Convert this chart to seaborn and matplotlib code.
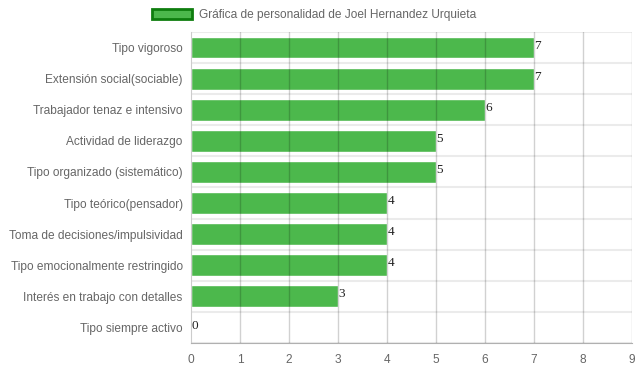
import numpy as np
import pandas as pd
import matplotlib.pyplot as plt
import seaborn as sns
from matplotlib.patches import Patch

# Data
categories = ["Tipo vigoroso", "Extensión social(sociable)", "Trabajador tenaz e intensivo",
              "Actividad de liderazgo", "Tipo organizado (sistemático)", "Tipo teórico(pensador)",
              "Toma de decisiones/impulsividad", "Tipo emocionalmente restringido",
              "Interés en trabajo con detalles", "Tipo siempre activo"]
scores = [7, 7, 6, 5, 5, 4, 4, 4, 3, 0]
series_name = "Gráfica de personalidad de Joel Hernandez Urquieta"

df = pd.DataFrame({"Rasgo": categories, "Valor": scores})

sns.set_style("white")
plt.rcParams["font.family"] = ["Liberation Sans", "DejaVu Sans"]

fig = plt.figure(figsize=(6.39, 3.72), dpi=100)
ax = fig.add_axes([0.299, 0.078, 0.69, 0.836])

sns.barplot(data=df, x="Valor", y="Rasgo", orient="h", color="#4cb84c",
            saturation=1, width=0.7, ax=ax, zorder=2)

ax.set_xlim(0, 9)
ax.set_xticks(range(10))
ax.set_ylim(len(categories) - 0.5, -0.5)

# vertical grid lines (drawn over bars like the original's translucent fill)
for v in range(1, 10):
    ax.axvline(v, color="#000000", alpha=0.18, lw=1, zorder=3)
# horizontal separators between categories
for i in range(len(categories) + 1):
    ax.axhline(i - 0.5, color="#ebebeb", lw=1.5, zorder=1)
ax.set_yticks([i - 0.5 for i in range(len(categories) + 1)], minor=True)
ax.tick_params(axis="y", which="minor", length=9, color="#ebebeb", width=1.5)

for s in ["top", "right"]:
    ax.spines[s].set_visible(False)
ax.spines["left"].set_color("#cccccc")
ax.spines["bottom"].set_color("#b0b0b0")

ax.tick_params(axis="both", which="major", colors="#666666", labelsize=8.6, length=0, pad=6)
ax.tick_params(axis="x", which="major", length=5, color="#cccccc", pad=3)
ax.set_xlabel("")
ax.set_ylabel("")

for i, v in enumerate(scores):
    ax.text(v + 0.01, i - 0.06, str(v), fontsize=9.5, family="Liberation Serif",
            color="#222222", va="center", ha="left", zorder=4)

handle = Patch(facecolor="#4cb84c", edgecolor="#0e7d0e", linewidth=2)
fig.legend([handle], [series_name], loc="upper center", bbox_to_anchor=(0.492, 1.005),
           frameon=False, fontsize=8.6, handlelength=3.3, handleheight=0.9,
           labelcolor="#666666", handletextpad=0.6)

fig.savefig("out.png", dpi=100)
